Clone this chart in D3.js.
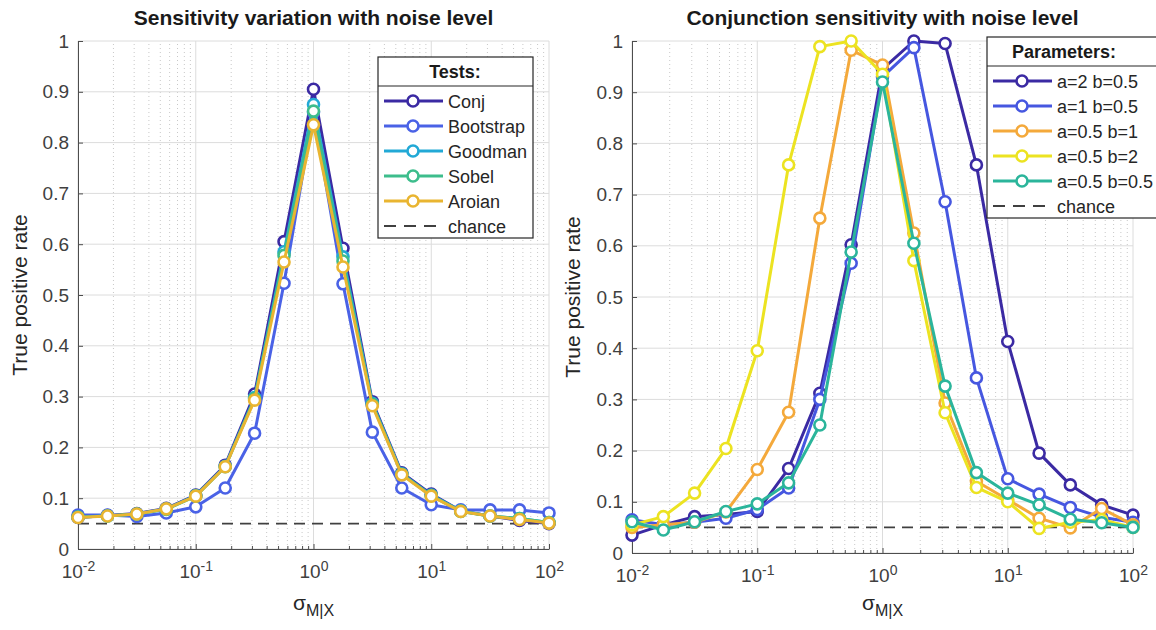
<!DOCTYPE html>
<html>
<head>
<meta charset="utf-8">
<script src="https://cdn.jsdelivr.net/npm/d3@7"></script>
<style>
  body { margin: 0; background: #fff; }
  text { font-family: "Liberation Sans", Arial, sans-serif; }
</style>
</head>
<body>
<div id="main_plot"></div>
<script>
// noise level sigma M|X, quarter-decade steps
var sigma = [0.01, 0.0178, 0.0316, 0.0562, 0.1, 0.178, 0.316, 0.562, 1,
             1.78, 3.16, 5.62, 10, 17.8, 31.6, 56.2, 100];

// left panel: tests
var test_names = ["Conj", "Bootstrap", "Goodman", "Sobel", "Aroian"];
var conj      = [0.062, 0.066, 0.070, 0.080, 0.106, 0.165, 0.305, 0.605, 0.905, 0.592, 0.290, 0.150, 0.108, 0.075, 0.065, 0.056, 0.050];
var bootstrap = [0.067, 0.067, 0.064, 0.071, 0.083, 0.120, 0.228, 0.523, 0.860, 0.522, 0.230, 0.120, 0.087, 0.077, 0.077, 0.077, 0.071];
var goodman   = [0.063, 0.065, 0.069, 0.079, 0.105, 0.163, 0.298, 0.585, 0.875, 0.575, 0.287, 0.148, 0.106, 0.075, 0.065, 0.060, 0.052];
var sobel     = [0.063, 0.065, 0.069, 0.078, 0.104, 0.162, 0.296, 0.578, 0.862, 0.567, 0.285, 0.147, 0.105, 0.074, 0.065, 0.060, 0.052];
var aroian    = [0.062, 0.065, 0.069, 0.079, 0.104, 0.162, 0.293, 0.565, 0.835, 0.555, 0.282, 0.146, 0.104, 0.074, 0.065, 0.058, 0.051];
var test_colors = ["#3b2aa3", "#4a62e6", "#22a9d6", "#3dbd8c", "#e9b531"];

// right panel: conjunction parameters
var param_names = ["a=2 b=0.5", "a=1 b=0.5", "a=0.5 b=1", "a=0.5 b=2", "a=0.5 b=0.5"];
var a2_b05   = [0.035, 0.055, 0.071, 0.075, 0.081, 0.165, 0.312, 0.602, 0.945, 1.000, 0.995, 0.758, 0.413, 0.195, 0.133, 0.094, 0.074];
var a1_b05   = [0.065, 0.055, 0.060, 0.068, 0.085, 0.127, 0.300, 0.566, 0.930, 0.987, 0.686, 0.342, 0.145, 0.115, 0.089, 0.070, 0.060];
var a05_b1   = [0.050, 0.055, 0.060, 0.080, 0.163, 0.275, 0.654, 0.982, 0.953, 0.625, 0.293, 0.140, 0.104, 0.068, 0.049, 0.087, 0.055];
var a05_b2   = [0.055, 0.071, 0.117, 0.204, 0.395, 0.758, 0.989, 1.000, 0.935, 0.571, 0.274, 0.128, 0.100, 0.048, 0.060, 0.065, 0.050];
var a05_b05  = [0.061, 0.045, 0.061, 0.081, 0.096, 0.137, 0.250, 0.588, 0.920, 0.605, 0.326, 0.157, 0.117, 0.094, 0.066, 0.059, 0.050];
var param_colors = ["#3b2aa3", "#4657e0", "#f4a93b", "#ece321", "#2bb59b"];

var chance = 0.05;
var y_ticks = [0, 0.1, 0.2, 0.3, 0.4, 0.5, 0.6, 0.7, 0.8, 0.9, 1];
var x_decades = [1e-2, 1e-1, 1e0, 1e1, 1e2];
var x_exponents = ["-2", "-1", "0", "1", "2"];

var svg = d3.select("div#main_plot")
  .append("svg")
  .attr("width", 1156)
  .attr("height", 630);

svg.append("rect").attr("width", 1156).attr("height", 630).attr("fill", "#fff");

// minor log ticks (2..9 per decade)
function minorTicks() {
  var out = [];
  x_decades.slice(0, 4).forEach(function(d) {
    for (var k = 2; k <= 9; k++) out.push(d * k);
  });
  return out;
}

function drawPanel(p) {
  var x = d3.scaleLog().domain([1e-2, 1e2]).range(p.xRange);
  var y = d3.scaleLinear().domain([0, 1]).range(p.yRange);
  var g = svg.append("g");

  // minor x grid
  g.append("g").selectAll("line")
    .data(minorTicks())
    .join("line")
      .attr("x1", function(d) { return x(d); })
      .attr("x2", function(d) { return x(d); })
      .attr("y1", p.yRange[0]).attr("y2", p.yRange[1])
      .attr("stroke", "#c8c8c8")
      .attr("stroke-width", 1)
      .attr("stroke-dasharray", "1,3");

  // major grid
  g.append("g").selectAll("line")
    .data(x_decades)
    .join("line")
      .attr("x1", function(d) { return x(d); })
      .attr("x2", function(d) { return x(d); })
      .attr("y1", p.yRange[0]).attr("y2", p.yRange[1])
      .attr("stroke", "#dcdcdc");
  g.append("g").selectAll("line")
    .data(y_ticks)
    .join("line")
      .attr("x1", p.xRange[0]).attr("x2", p.xRange[1])
      .attr("y1", function(d) { return y(d); })
      .attr("y2", function(d) { return y(d); })
      .attr("stroke", "#dcdcdc");

  // axes, ticks pointing inwards
  var yAxis = g.append("g")
    .attr("transform", "translate(" + p.xRange[0] + ",0)")
    .call(d3.axisLeft(y)
      .tickValues(y_ticks)
      .tickSizeInner(-5)
      .tickSizeOuter(0)
      .tickPadding(9)
      .tickFormat(function(d) { return d3.format("")(d); }));
  yAxis.selectAll("text").attr("font-size", 19).attr("fill", "#404040");

  g.append("g")
    .attr("transform", "translate(0," + p.yRange[0] + ")")
    .call(d3.axisBottom(x)
      .tickValues(minorTicks())
      .tickSizeInner(-3)
      .tickSizeOuter(0)
      .tickFormat(""))
    .select(".domain").remove();

  var xAxis = g.append("g")
    .attr("transform", "translate(0," + p.yRange[0] + ")")
    .call(d3.axisBottom(x)
      .tickValues(x_decades)
      .tickSizeInner(-5)
      .tickSizeOuter(0)
      .tickPadding(16));
  xAxis.selectAll(".tick text")
    .text(null)
    .attr("font-size", 19)
    .attr("fill", "#404040")
    .each(function(d, i) {
      var t = d3.select(this);
      t.append("tspan").text("10");
      t.append("tspan").attr("dy", "-0.55em").attr("font-size", 14).text(x_exponents[i]);
    });
  g.selectAll(".domain, .tick line").attr("stroke", "#4d4d4d");

  // chance line
  g.append("line")
    .attr("x1", p.xRange[0]).attr("x2", p.xRange[1])
    .attr("y1", y(chance)).attr("y2", y(chance))
    .attr("stroke", "#404040")
    .attr("stroke-width", 1.8)
    .attr("stroke-dasharray", "11,7");

  // series
  var line = d3.line()
    .x(function(d) { return x(d[0]); })
    .y(function(d) { return y(d[1]); });

  p.series.forEach(function(s, i) {
    var pts = sigma.map(function(v, j) { return [v, s[j]]; });
    var sg = g.append("g");
    sg.append("path")
      .datum(pts)
      .attr("fill", "none")
      .attr("stroke", p.colors[i])
      .attr("stroke-width", 3)
      .attr("stroke-linejoin", "round")
      .attr("d", line);
    sg.selectAll("circle")
      .data(pts)
      .join("circle")
        .attr("cx", function(d) { return x(d[0]); })
        .attr("cy", function(d) { return y(d[1]); })
        .attr("r", 5.5)
        .attr("fill", "#fff")
        .attr("stroke", p.colors[i])
        .attr("stroke-width", 2.6);
  });

  // title
  svg.append("text")
    .attr("x", (p.xRange[0] + p.xRange[1]) / 2)
    .attr("y", 25)
    .attr("text-anchor", "middle")
    .attr("font-size", 21)
    .attr("font-weight", "bold")
    .attr("fill", "#1a1a1a")
    .text(p.title);

  // y label
  svg.append("text")
    .attr("transform", "translate(" + p.yLabelX + "," + ((p.yRange[0] + p.yRange[1]) / 2) + ") rotate(-90)")
    .attr("text-anchor", "middle")
    .attr("font-size", 21)
    .attr("fill", "#262626")
    .text("True positive rate");

  // x label: sigma with subscript M|X
  var xl = svg.append("text")
    .attr("x", (p.xRange[0] + p.xRange[1]) / 2)
    .attr("y", 610)
    .attr("text-anchor", "middle")
    .attr("font-size", 21)
    .attr("fill", "#262626");
  xl.append("tspan").text("\u03c3");
  xl.append("tspan").attr("dy", 6).attr("font-size", 16).text("M|X");

  // legend
  var L = p.legend;
  var lg = svg.append("g").attr("transform", "translate(" + L.x + "," + L.y + ")");
  var rowH = 25;
  var headH = 29;
  var n = p.names.length + 1;
  var h = headH + 15 + (n - 1) * rowH + 12;
  lg.append("rect")
    .attr("width", L.w).attr("height", h)
    .attr("fill", "#fff").attr("stroke", "#262626").attr("stroke-width", 1.2);
  lg.append("line")
    .attr("x1", 0).attr("x2", L.w).attr("y1", headH).attr("y2", headH)
    .attr("stroke", "#262626").attr("stroke-width", 1.2);
  lg.append("text")
    .attr("x", L.titleX).attr("y", headH / 2 + 6)
    .attr("text-anchor", "middle")
    .attr("font-size", 18).attr("font-weight", "bold").attr("fill", "#1a1a1a")
    .text(L.title);
  var entries = p.names.map(function(nm, i) { return {name: nm, color: p.colors[i], dash: false}; });
  entries.push({name: "chance", color: "#404040", dash: true});
  var rows = lg.selectAll("g.row")
    .data(entries)
    .join("g")
      .attr("class", "row")
      .attr("transform", function(d, i) { return "translate(0," + (headH + 15 + i * rowH) + ")"; });
  rows.append("line")
    .attr("x1", 6).attr("x2", 65).attr("y1", 0).attr("y2", 0)
    .attr("stroke", function(d) { return d.color; })
    .attr("stroke-width", function(d) { return d.dash ? 1.8 : 3; })
    .attr("stroke-dasharray", function(d) { return d.dash ? "12,8" : null; });
  rows.filter(function(d) { return !d.dash; })
    .append("circle")
      .attr("cx", 35).attr("cy", 0).attr("r", 5.5)
      .attr("fill", "#fff")
      .attr("stroke", function(d) { return d.color; })
      .attr("stroke-width", 2.6);
  rows.append("text")
    .attr("x", 70).attr("y", 6.5)
    .attr("font-size", 18).attr("fill", "#262626")
    .text(function(d) { return d.name; });
}

drawPanel({
  xRange: [78, 549], yRange: [549, 41],
  title: "Sensitivity variation with noise level",
  yLabelX: 27,
  series: [conj, bootstrap, goodman, sobel, aroian],
  names: test_names, colors: test_colors,
  legend: {x: 378, y: 57, w: 155, titleX: 77, title: "Tests:"}
});

drawPanel({
  xRange: [632, 1133], yRange: [553, 41],
  title: "Conjunction sensitivity with noise level",
  yLabelX: 580,
  series: [a2_b05, a1_b05, a05_b1, a05_b2, a05_b05],
  names: param_names, colors: param_colors,
  legend: {x: 987, y: 37, w: 170, titleX: 77, title: "Parameters:"}
});
</script>
</body>
</html>
